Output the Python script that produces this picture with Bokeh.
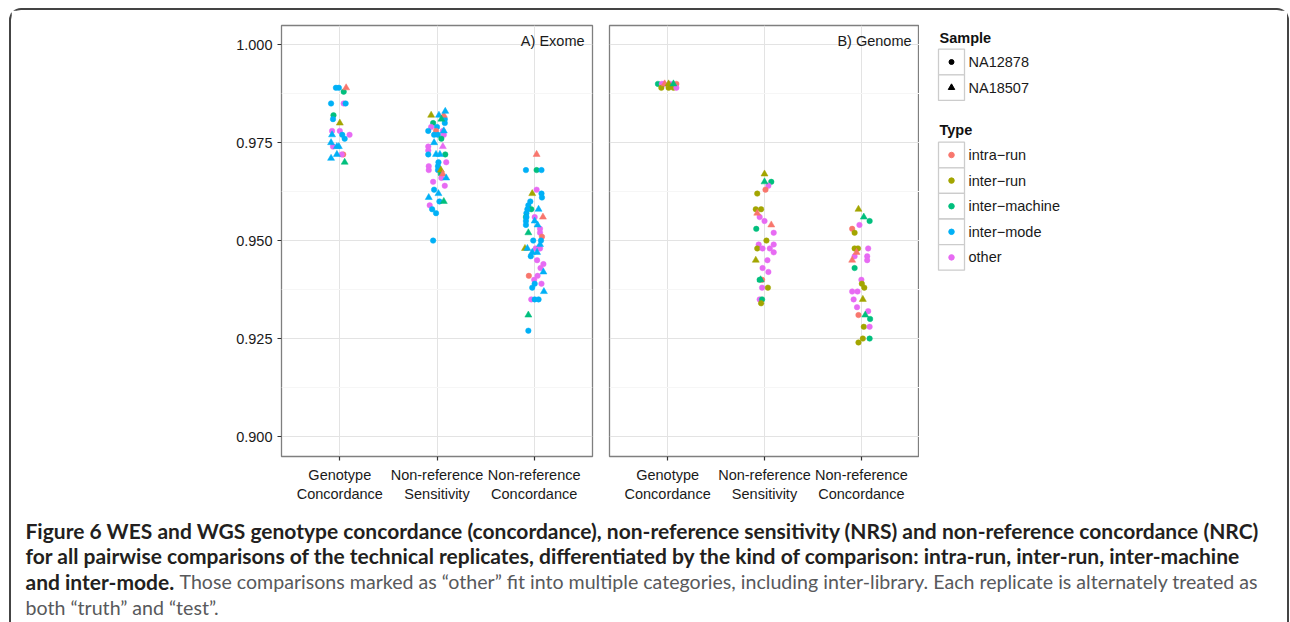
from bokeh.plotting import figure
from bokeh.layouts import row, column
from bokeh.models import ColumnDataSource, FixedTicker, Range1d, Label, NumeralTickFormatter
from bokeh.embed import file_html
from bokeh.resources import INLINE
from bokeh.core.properties import value

# ---------------- data ----------------
METRICS = ["Genotype\nConcordance", "Non-reference\nSensitivity", "Non-reference\nConcordance"]
SAMPLES = ["NA12878", "NA18507"]
TYPES = ["intra\u2212run", "inter\u2212run", "inter\u2212machine", "inter\u2212mode", "other"]
TYPE_COLORS = ["#F8766D", "#A3A500", "#00BF7D", "#00B0F6", "#E76BF3"]
PANEL_TITLES = ["A) Exome", "B) Genome"]
Y_TICKS = [0.900, 0.925, 0.950, 0.975, 1.000]

# type index into TYPES, sample index into SAMPLES, jitter in category units
exome_gc_val = [.989, .989, .989, .988, .985, .985, .985, .982, .981, .980, .978, .978, .977, .977, .977, .976, .975, .974, .974, .974, .972, .972, .972, .971, .970]
exome_gc_jit = [-.04, -.01, .065, .04, -.09, .04, .06, -.065, -.07, 0, -.08, 0, -.08, .025, .10, .05, -.09, -.07, -.03, -.01, -.03, .035, .02, -.09, .05]
exome_gc_type = [3, 3, 0, 2, 3, 4, 3, 2, 3, 1, 4, 4, 3, 3, 4, 3, 3, 4, 3, 3, 3, 0, 4, 3, 2]
exome_gc_sample = [0, 0, 1, 0, 0, 0, 0, 0, 0, 1, 0, 0, 1, 0, 0, 0, 1, 0, 1, 1, 1, 0, 0, 1, 1]

exome_nrs_val = [.982, .982, .982, .983, .981, .981, .980, .980, .979, .979, .978, .978, .978, .978, .977, .977, .977, .976, .975, .974, .974, .973, .972, .972, .972, .972, .970, .970, .969, .968, .969, .968, .968, .967, .967, .966, .966, .965, .964, .963, .962, .961, .960, .960, .959, .958, .957, .950]
exome_nrs_jit = [-.06, .02, .07, .085, .045, .08, .08, -.04, -.06, 0, -.09, -.01, .06, .07, -.03, .01, .07, .045, -.03, .06, -.09, -.09, -.09, -.01, .03, .085, .015, .095, -.085, -.085, .01, .01, .04, .04, .06, .045, .095, -.04, .08, -.03, .015, -.085, .07, .025, -.075, -.05, -.01, -.04]
exome_nrs_type = [1, 3, 0, 3, 2, 3, 3, 2, 4, 3, 3, 0, 4, 3, 3, 3, 4, 2, 3, 4, 4, 4, 3, 3, 3, 2, 3, 4, 4, 4, 3, 3, 1, 2, 0, 4, 3, 4, 4, 3, 3, 3, 2, 3, 4, 3, 3, 3]
exome_nrs_sample = [1, 1, 1, 1, 1, 0, 0, 0, 0, 0, 0, 0, 0, 1, 0, 0, 0, 0, 1, 1, 0, 0, 0, 1, 1, 0, 0, 0, 0, 0, 0, 0, 1, 0, 1, 0, 1, 0, 0, 0, 1, 1, 1, 0, 0, 0, 0, 0]

exome_nrc_val = [.972, .968, .968, .968, .963, .962, .961, .962, .960, .959, .958, .958, .958, .957, .956, .956, .956, .956, .955, .955, .954, .954, .953, .952, .952, .951, .950, .950, .949, .948, .948, .948, .948, .947, .947, .946, .945, .944, .943, .942, .941, .941, .940, .939, .939, .938, .937, .935, .935, .935, .931, .927]
exome_nrc_jit = [.025, -.085, .025, .075, .025, .075, .08, -.02, -.04, -.06, .045, -.03, -.07, -.08, -.085, -.08, .005, .09, -.085, .005, -.085, .035, .06, .06, -.06, .08, .07, -.01, .06, -.095, -.07, .015, .06, -.02, .03, -.035, .03, .095, .065, .095, .035, -.055, 0, .005, .075, -.02, .1, -.03, .005, .045, -.06, -.06]
exome_nrc_type = [0, 3, 2, 3, 4, 3, 3, 1, 3, 3, 3, 2, 3, 3, 2, 3, 4, 0, 3, 3, 3, 3, 4, 4, 2, 0, 3, 3, 3, 1, 3, 4, 4, 3, 3, 3, 4, 4, 4, 3, 4, 0, 4, 3, 4, 3, 3, 4, 3, 3, 2, 3]
exome_nrc_sample = [1, 0, 0, 0, 0, 0, 0, 1, 0, 0, 1, 0, 0, 0, 0, 0, 0, 1, 0, 1, 0, 1, 0, 0, 1, 0, 0, 0, 1, 1, 1, 0, 0, 1, 1, 0, 0, 0, 0, 1, 0, 0, 0, 0, 0, 0, 1, 0, 0, 0, 1, 0]

genome_gc_val = [.990, .990, .990, .990, .990, .990, .990, .990, .989, .989, .989, .989]
genome_gc_jit = [-.10, -.06, -.04, -.03, .01, .03, .06, .09, -.065, .01, .06, .09]
genome_gc_type = [2, 4, 4, 0, 1, 4, 2, 0, 1, 1, 1, 4]
genome_gc_sample = [0, 0, 0, 1, 1, 0, 1, 0, 0, 0, 0, 0]

genome_nrs_val = [.967, .965, .965, .964, .963, .962, .958, .958, .957, .956, .955, .954, .953, .952, .950, .949, .949, .948, .948, .948, .947, .945, .945, .943, .942, .940, .940, .940, .938, .938, .935, .935, .934]
genome_nrs_jit = [0, 0, .07, .04, .01, -.075, -.09, -.035, -.075, -.05, 0, .07, -.085, .095, .02, -.06, .095, -.075, -.02, .055, .095, -.09, .03, -.02, .04, -.04, -.025, -.05, -.025, .035, -.05, -.025, -.035]
genome_nrs_type = [1, 2, 2, 4, 0, 1, 1, 1, 0, 4, 4, 0, 2, 4, 1, 4, 4, 1, 4, 4, 4, 1, 4, 4, 4, 2, 0, 2, 4, 1, 4, 2, 1]
genome_nrs_sample = [1, 1, 0, 0, 0, 0, 0, 0, 1, 0, 0, 1, 0, 0, 0, 0, 0, 0, 0, 0, 0, 1, 0, 0, 0, 1, 0, 0, 0, 0, 0, 0, 0]

genome_nrc_val = [.958, .956, .955, .954, .953, .952, .948, .948, .948, .947, .946, .946, .945, .945, .943, .940, .939, .938, .937, .937, .935, .935, .933, .932, .931, .931, .930, .928, .928, .925, .925, .924]
genome_nrc_jit = [-.03, .025, .085, -.02, -.095, -.07, -.07, -.035, .07, -.05, -.07, .06, .06, -.095, -.07, 0, .005, .03, -.095, -.04, .015, -.08, -.045, .07, .04, -.03, .09, .025, .085, .015, .085, -.03]
genome_nrc_type = [1, 2, 2, 4, 0, 1, 1, 1, 4, 0, 4, 4, 4, 0, 2, 4, 1, 1, 4, 4, 1, 4, 4, 4, 2, 0, 2, 1, 4, 1, 2, 1]
genome_nrc_sample = [1, 1, 0, 0, 0, 0, 0, 0, 0, 1, 0, 0, 0, 1, 0, 0, 0, 0, 0, 0, 1, 0, 0, 0, 1, 0, 0, 0, 0, 0, 0, 0]

CAPTION_BOLD = [
    "Figure 6 WES and WGS genotype concordance (concordance), non-reference sensitivity (NRS) and non-reference concordance (NRC)",
    "for all pairwise comparisons of the technical replicates, differentiated by the kind of comparison: intra-run, inter-run, inter-machine",
    "and inter-mode.",
]
CAPTION_REGULAR = [
    "Those comparisons marked as \u201cother\u201d fit into multiple categories, including inter-library. Each replicate is alternately treated as",
    "both \u201ctruth\u201d and \u201ctest\u201d.",
]

# ---------------- style ----------------
FONT = "Liberation Sans"
CAP_FONT = "Lato"
FS = "14.5px"
TOP_H = 502
MB_TOP, MB_BOTTOM = 15, 56
MARKERS = ["circle", "triangle"]
MSIZE = [5.5, 7]

exome_groups = [
    (exome_gc_val, exome_gc_jit, exome_gc_type, exome_gc_sample),
    (exome_nrs_val, exome_nrs_jit, exome_nrs_type, exome_nrs_sample),
    (exome_nrc_val, exome_nrc_jit, exome_nrc_type, exome_nrc_sample),
]
genome_groups = [
    (genome_gc_val, genome_gc_jit, genome_gc_type, genome_gc_sample),
    (genome_nrs_val, genome_nrs_jit, genome_nrs_type, genome_nrs_sample),
    (genome_nrc_val, genome_nrc_jit, genome_nrc_type, genome_nrc_sample),
]
for g in exome_groups + genome_groups:
    assert len(set(len(a) for a in g)) == 1, [len(a) for a in g]

minor = [(a + b) / 2 for a, b in zip(Y_TICKS[:-1], Y_TICKS[1:])]


def make_panel(title, groups, width, mbl, mbr, show_y):
    p = figure(width=width, height=TOP_H, x_range=Range1d(0.4, 3.6), y_range=Range1d(0.8949, 1.0049),
               output_backend="svg", toolbar_location=None,
               y_axis_location="left" if show_y else None,
               min_border_left=mbl, min_border_right=mbr, min_border_top=MB_TOP, min_border_bottom=MB_BOTTOM)
    p.outline_line_color = "#7f7f7f"
    p.outline_line_width = 1.3
    p.background_fill_color = "white"
    p.border_fill_color = "white"

    p.xgrid.ticker = FixedTicker(ticks=[1, 2, 3])
    p.xgrid.grid_line_color = "#e3e3e3"
    p.ygrid.ticker = FixedTicker(ticks=Y_TICKS, minor_ticks=minor)
    p.ygrid.grid_line_color = "#e3e3e3"
    p.ygrid.minor_grid_line_color = "#f6f6f6"

    xa = p.xaxis[0]
    xa.ticker = FixedTicker(ticks=[1, 2, 3])
    xa.major_label_overrides = {i + 1: m for i, m in enumerate(METRICS)}
    xa.axis_line_color = None
    xa.major_tick_in = 0
    xa.major_tick_out = 4
    xa.major_tick_line_color = "#333333"
    xa.major_tick_line_width = 1.2
    xa.minor_tick_line_color = None
    xa.major_label_text_font = FONT
    xa.major_label_text_font_size = FS
    xa.major_label_text_color = "#1a1a1a"
    xa.major_label_standoff = 6

    if show_y:
        ya = p.yaxis[0]
        ya.ticker = FixedTicker(ticks=Y_TICKS)
        ya.formatter = NumeralTickFormatter(format="0.000")
        ya.axis_line_color = None
        ya.major_tick_in = 0
        ya.major_tick_out = 4
        ya.major_tick_line_color = "#333333"
        ya.major_tick_line_width = 1.2
        ya.minor_tick_line_color = None
        ya.major_label_text_font = FONT
        ya.major_label_text_font_size = FS
        ya.major_label_text_color = "#1a1a1a"
        ya.major_label_standoff = 5

    for s in range(len(SAMPLES)):
        xs, ys, cs = [], [], []
        for m, (vals, jits, types, samples) in enumerate(groups):
            for v, j, t, smp in zip(vals, jits, types, samples):
                if smp == s:
                    xs.append(m + 1 + j)
                    ys.append(v)
                    cs.append(TYPE_COLORS[t])
        src = ColumnDataSource(dict(x=xs, y=ys, c=cs))
        p.scatter("x", "y", source=src, marker=MARKERS[s], size=MSIZE[s],
                  fill_color="c", line_color="c", line_width=0.5)

    p.add_layout(Label(x=3.6 - 0.082, y=1.0009, text=title, text_align="right",
                       text_baseline="middle", text_font=FONT, text_font_size=FS,
                       text_color="#1a1a1a"))
    return p


pa = make_panel(PANEL_TITLES[0], exome_groups, 589, 270, 8, True)
pb = make_panel(PANEL_TITLES[1], genome_groups, 319, 9, 0, False)

# ---------------- legend (frame aligned with the panels: page y 25..456) ----------------
LW = 368
pl = figure(width=LW, height=TOP_H, x_range=Range1d(0, LW), y_range=Range1d(456, 25),
            output_backend="svg", toolbar_location=None, x_axis_location=None, y_axis_location=None,
            min_border_left=0, min_border_right=0, min_border_top=MB_TOP, min_border_bottom=MB_BOTTOM)
pl.grid.visible = False
pl.outline_line_color = None
key_x, key_w, txt_x = 32, 26, 49
step = 25.6
s_rows = [61.5 + i * step for i in range(len(SAMPLES))]
t_rows = [154.5 + i * step for i in range(len(TYPES))]
pl.text(x=[20, 20], y=[37, 129.5], text=["Sample", "Type"], text_font=value(FONT),
        text_font_style="bold", text_font_size=FS, text_baseline="middle", text_color="#111111")
pl.rect(x=[key_x] * (len(s_rows) + len(t_rows)), y=s_rows + t_rows, width=key_w, height=step,
        fill_color="white", line_color="#cccccc", line_width=1.3)
for i, s in enumerate(SAMPLES):
    pl.scatter(x=[key_x], y=[s_rows[i]], marker=MARKERS[i], size=MSIZE[i] - 0.5, color="black")
pl.scatter(x=[key_x] * len(TYPES), y=t_rows, marker="circle", size=5.5, color=TYPE_COLORS)
pl.text(x=[txt_x] * (len(SAMPLES) + len(TYPES)), y=s_rows + t_rows, text=SAMPLES + TYPES,
        text_font=value(FONT), text_font_size=FS, text_baseline="middle", text_color="#1a1a1a")

# ---------------- caption ----------------
CW, CH = 589 + 319 + LW, 110
pc = figure(width=CW, height=CH, x_range=Range1d(0, CW), y_range=Range1d(CH, 0),
            output_backend="svg", toolbar_location=None, x_axis_location=None, y_axis_location=None,
            min_border=0)
pc.grid.visible = False
pc.outline_line_color = None
cap_x, cap_y0, cap_step = 14, 17.5, 25.8
pc.text(x=[cap_x] * 3, y=[cap_y0 + i * cap_step for i in range(3)], text=CAPTION_BOLD,
        text_font=value(CAP_FONT), text_font_style="bold", text_font_size="21px",
        text_baseline="alphabetic", text_color="#231f20")
pc.text(x=[168, cap_x], y=[cap_y0 + 2 * cap_step, cap_y0 + 3 * cap_step], text=CAPTION_REGULAR,
        text_font=value(CAP_FONT), text_font_size="19.6px",
        text_baseline="alphabetic", text_color="#58595b")

layout = column(row(pa, pb, pl), pc,
                styles={"margin-left": "9px", "margin-top": "8px",
                        "border": "2px solid #444444", "border-bottom": "none",
                        "border-radius": "12px 12px 0 0"})

open("out.html", "w").write(file_html(layout, INLINE))
